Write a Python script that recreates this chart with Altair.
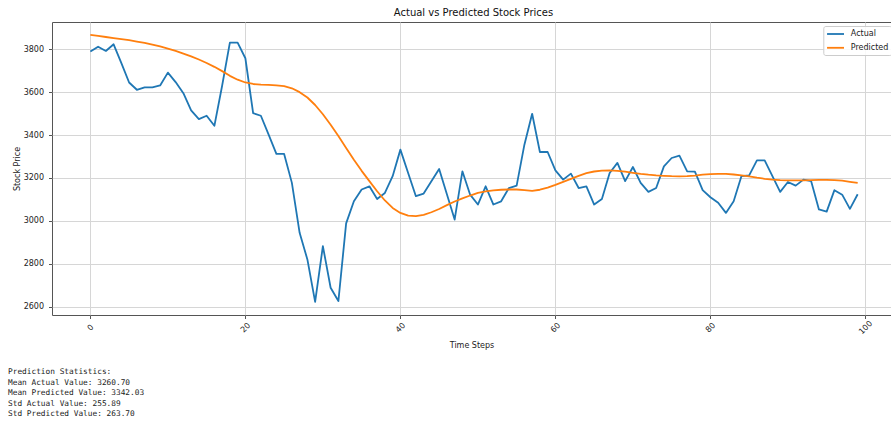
import altair as alt
import pandas as pd

# Observed closing prices per time step
actual = [3789, 3812, 3792, 3823, 3735, 3645, 3611, 3622, 3622, 3631,
          3691, 3647, 3595, 3515, 3474, 3490, 3443, 3630, 3831, 3831,
          3758, 3502, 3490, 3402, 3312, 3312, 3177, 2944, 2820, 2622,
          2882, 2688, 2626, 2988, 3091, 3146, 3161, 3102, 3130, 3208,
          3332, 3223, 3115, 3127, 3185, 3242, 3124, 3006, 3231, 3122,
          3076, 3161, 3076, 3091, 3153, 3164, 3355, 3499, 3321, 3321,
          3235, 3192, 3220, 3153, 3161, 3076, 3102, 3223, 3270, 3185,
          3251, 3177, 3135, 3153, 3254, 3293, 3304, 3231, 3229, 3143,
          3110, 3084, 3037, 3091, 3208, 3212, 3282, 3282, 3208, 3135,
          3181, 3164, 3192, 3185, 3053, 3043, 3143, 3122, 3056, 3124]

# Model output per time step
predicted = [3867, 3862, 3857, 3852, 3847, 3842, 3836, 3830, 3822, 3813,
             3803, 3792, 3780, 3767, 3752, 3736, 3718, 3698, 3676, 3658,
             3645, 3638, 3635, 3634, 3632, 3628, 3618, 3600, 3575, 3540,
             3497, 3448, 3395, 3340, 3285, 3233, 3185, 3138, 3095, 3060,
             3037, 3024, 3022, 3028, 3040, 3055, 3073, 3090, 3105, 3118,
             3130, 3137, 3142, 3145, 3146, 3146, 3143, 3140, 3145, 3155,
             3168, 3182, 3196, 3210, 3222, 3230, 3234, 3235, 3233, 3229,
             3224, 3219, 3215, 3212, 3210, 3208, 3207, 3208, 3211, 3215,
             3218, 3219, 3219, 3216, 3212, 3207, 3201, 3196, 3192, 3190,
             3189, 3189, 3189, 3190, 3191, 3191, 3190, 3187, 3182, 3177]

series_names = ["Actual", "Predicted"]
series_colors = ["#1f77b4", "#ff7f0e"]

x_ticks = [0, 20, 40, 60, 80, 100]
y_ticks = [2600, 2800, 3000, 3200, 3400, 3600, 3800]

stats_lines = [
    "Prediction Statistics:",
    "Mean Actual Value: 3260.70",
    "Mean Predicted Value: 3342.03",
    "Std Actual Value: 255.89",
    "Std Predicted Value: 263.70",
]

steps = list(range(len(actual)))
df = pd.DataFrame({
    "step": steps + steps,
    "value": actual + predicted,
    "series": [series_names[0]] * len(actual) + [series_names[1]] * len(predicted),
})

FONT = "DejaVu Sans"
PLOT_W, PLOT_H = 839, 293

lines = alt.Chart(df).mark_line(strokeWidth=1.8, strokeJoin="round").encode(
    x=alt.X(
        "step:Q",
        scale=alt.Scale(domain=[-4.95, 103.3], nice=False, zero=False),
        axis=alt.Axis(
            values=x_ticks, format="d", title="Time Steps", labelAngle=-45,
            labelAlign="center", labelBaseline="middle", labelPadding=9,
            titleY=30.5, titleBaseline="middle",
        ),
    ),
    y=alt.Y(
        "value:Q",
        scale=alt.Scale(domain=[2561, 3927], nice=False, zero=False),
        axis=alt.Axis(
            values=y_ticks, format="d", title="Stock Price", labelPadding=5,
            titleX=-35, titleY=PLOT_H / 2, titleBaseline="middle",
        ),
    ),
    color=alt.Color(
        "series:N",
        scale=alt.Scale(domain=series_names, range=series_colors),
        title=None,
        legend=alt.Legend(
            orient="none", legendX=771.3, legendY=4,
            symbolType="M-1,0H3", symbolSize=72, symbolStrokeWidth=1.8,
            labelFont=FONT, labelFontSize=8, labelColor="#222222",
            labelOffset=14, rowPadding=3.8, padding=2.5,
            fillColor="rgba(255,255,255,0.85)", strokeColor="#cccccc",
            cornerRadius=2,
        ),
    ),
)

# Summary block below the plot; y is the middle of its first line
stats = alt.Chart(pd.DataFrame({"txt": ["\n".join(stats_lines)]})).mark_text(
    align="left", baseline="middle", lineBreak="\n", lineHeight=10.6,
    font="DejaVu Sans Mono", fontSize=7.8, color="#222222",
).encode(
    text="txt:N",
    x=alt.value(-44),
    y=alt.value(350),
)

chart = alt.layer(lines, stats).properties(
    width=PLOT_W,
    height=PLOT_H,
    title=alt.TitleParams(
        "Actual vs Predicted Stock Prices", fontSize=10, fontWeight="normal",
        font=FONT, color="#111111", anchor="middle", frame="group",
        baseline="middle", offset=10, dx=2, dy=11,
    ),
    autosize=alt.AutoSizeParams(type="none"),
    padding={"left": 52, "top": 22, "right": 0, "bottom": 108},
).configure_view(
    stroke="#555555", strokeWidth=1,
).configure_axis(
    labelFont=FONT, labelFontSize=8, labelColor="#222222",
    titleFont=FONT, titleFontSize=8, titleFontWeight="normal", titleColor="#222222",
    tickColor="#555555", tickSize=3.5, domain=False,
    grid=True, gridColor="#d6d6d6", gridWidth=1,
)

chart.save("out.html", embed_options={"renderer": "svg", "actions": False})
